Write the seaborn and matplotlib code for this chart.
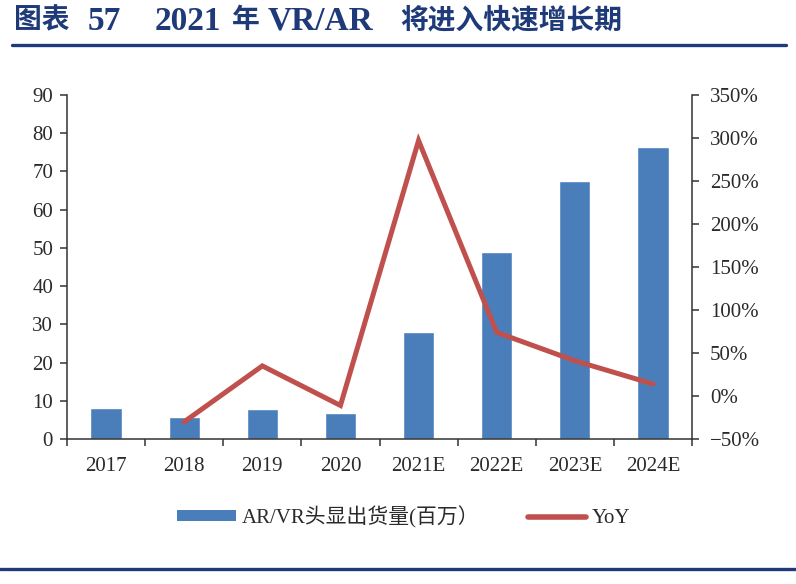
import numpy as np
import pandas as pd
import matplotlib
matplotlib.use("Agg")
import matplotlib.pyplot as plt
from matplotlib.lines import Line2D
from matplotlib.patches import Patch
from matplotlib.ticker import FixedLocator, PercentFormatter
import seaborn as sns

categories = ["2017", "2018", "2019", "2020", "2021E", "2022E", "2023E", "2024E"]
shipments = [8.1, 5.8, 7.9, 6.8, 28.0, 49.0, 67.6, 76.5]
yoy_categories = ["2018", "2019", "2020", "2021E", "2022E", "2023E", "2024E"]
yoy = [-30, 35, -11, 297, 74, 41, 14]
left_ticks = [0, 10, 20, 30, 40, 50, 60, 70, 80, 90]
right_ticks = [-50, 0, 50, 100, 150, 200, 250, 300, 350]

title_parts = ["图表", "57", "2021", "年", "VR/AR", "将进入快速增长期"]
bar_label = "AR/VR头显出货量(百万）"
line_label = "YoY"

sns.set_theme(style="white")
plt.rcParams['font.family'] = ['Liberation Serif', 'Noto Sans CJK SC', 'DejaVu Sans']

bar_color = "#4A7EBB"
line_color = "#C0504D"
navy = "#1F3A78"
txt = "#2a2a2a"
fs = 15

fig = plt.figure(figsize=(7.96, 5.84), dpi=100)
ax = fig.add_axes([67/796, 1-439/584, (692-67)/796, (439-95)/584])

df = pd.DataFrame({"cat": categories, "val": shipments})
sns.barplot(data=df, x="cat", y="val", color=bar_color, width=0.4, ax=ax,
            saturation=1, order=categories)
ax.set_ylim(0, 90)
ax.set_xlim(-0.5, len(categories) - 0.5)
ax.set_yticks(left_ticks)
ax.set_xlabel("")
ax.set_ylabel("")

ax2 = ax.twinx()
pos = {c: i for i, c in enumerate(categories)}
ldf = pd.DataFrame({"x": [pos[c] for c in yoy_categories], "y": yoy})
sns.lineplot(data=ldf, x="x", y="y", color=line_color, linewidth=3.6, ax=ax2,
             solid_joinstyle="miter")
ax2.set_ylim(-50, 350)
ax2.set_yticks(right_ticks)
ax2.yaxis.set_major_formatter(PercentFormatter(decimals=0))
ax2.set_xlabel("")
ax2.set_ylabel("")
ax2.set_xlim(-0.5, len(categories) - 0.5)

for a in (ax, ax2):
    a.spines["top"].set_visible(False)
    for s in ("left", "right", "bottom"):
        a.spines[s].set_color("#333333")
        a.spines[s].set_linewidth(1.1)

ax.spines["right"].set_visible(False)
ax2.spines["left"].set_visible(False)
ax2.spines["bottom"].set_visible(False)

ax.tick_params(axis="y", which="major", direction="out", length=5, width=1.1,
               color="#333333", labelsize=fs, left=True, pad=5)
ax2.tick_params(axis="y", which="major", direction="out", length=5, width=1.1,
                color="#333333", labelsize=fs, right=True, pad=8)
ax.tick_params(axis="x", which="major", length=0, labelsize=fs, pad=13)
ax.xaxis.set_minor_locator(FixedLocator(np.arange(-0.5, len(categories), 1.0)))
ax.tick_params(axis="x", which="minor", direction="out", length=5, width=1.1,
               color="#333333", bottom=True)
for lab in ax.get_xticklabels() + ax.get_yticklabels() + ax2.get_yticklabels():
    lab.set_color(txt)

handles = [Patch(facecolor=bar_color, edgecolor="none", label=bar_label),
           Line2D([0], [0], color=line_color, linewidth=4, label=line_label)]
leg = fig.legend(handles=handles, loc="center", bbox_to_anchor=(404/796, 1 - 517/584),
                 ncol=2, frameon=False, fontsize=fs, handlelength=2.8, handleheight=0.45,
                 columnspacing=2.3, handletextpad=0.3)
for t in leg.get_texts():
    t.set_color(txt)

title_x = [14, 88, 155, 232, 268, 400]
title_fs = [20, 24, 24, 20, 24, 20]
for s, x, f in zip(title_parts, title_x, title_fs):
    fig.text(x/796, 1 - 21/584, s, fontsize=f, fontweight="bold", color=navy,
             ha="left", va="center")
fig.add_artist(Line2D([12/796, 786/796], [1 - 45/584, 1 - 45/584], color=navy,
                      linewidth=2.4, transform=fig.transFigure))
fig.add_artist(Line2D([0/796, 796/796], [1 - 569/584, 1 - 569/584], color=navy,
                      linewidth=2.4, transform=fig.transFigure))

fig.savefig("out.png", dpi=100, facecolor="white")
